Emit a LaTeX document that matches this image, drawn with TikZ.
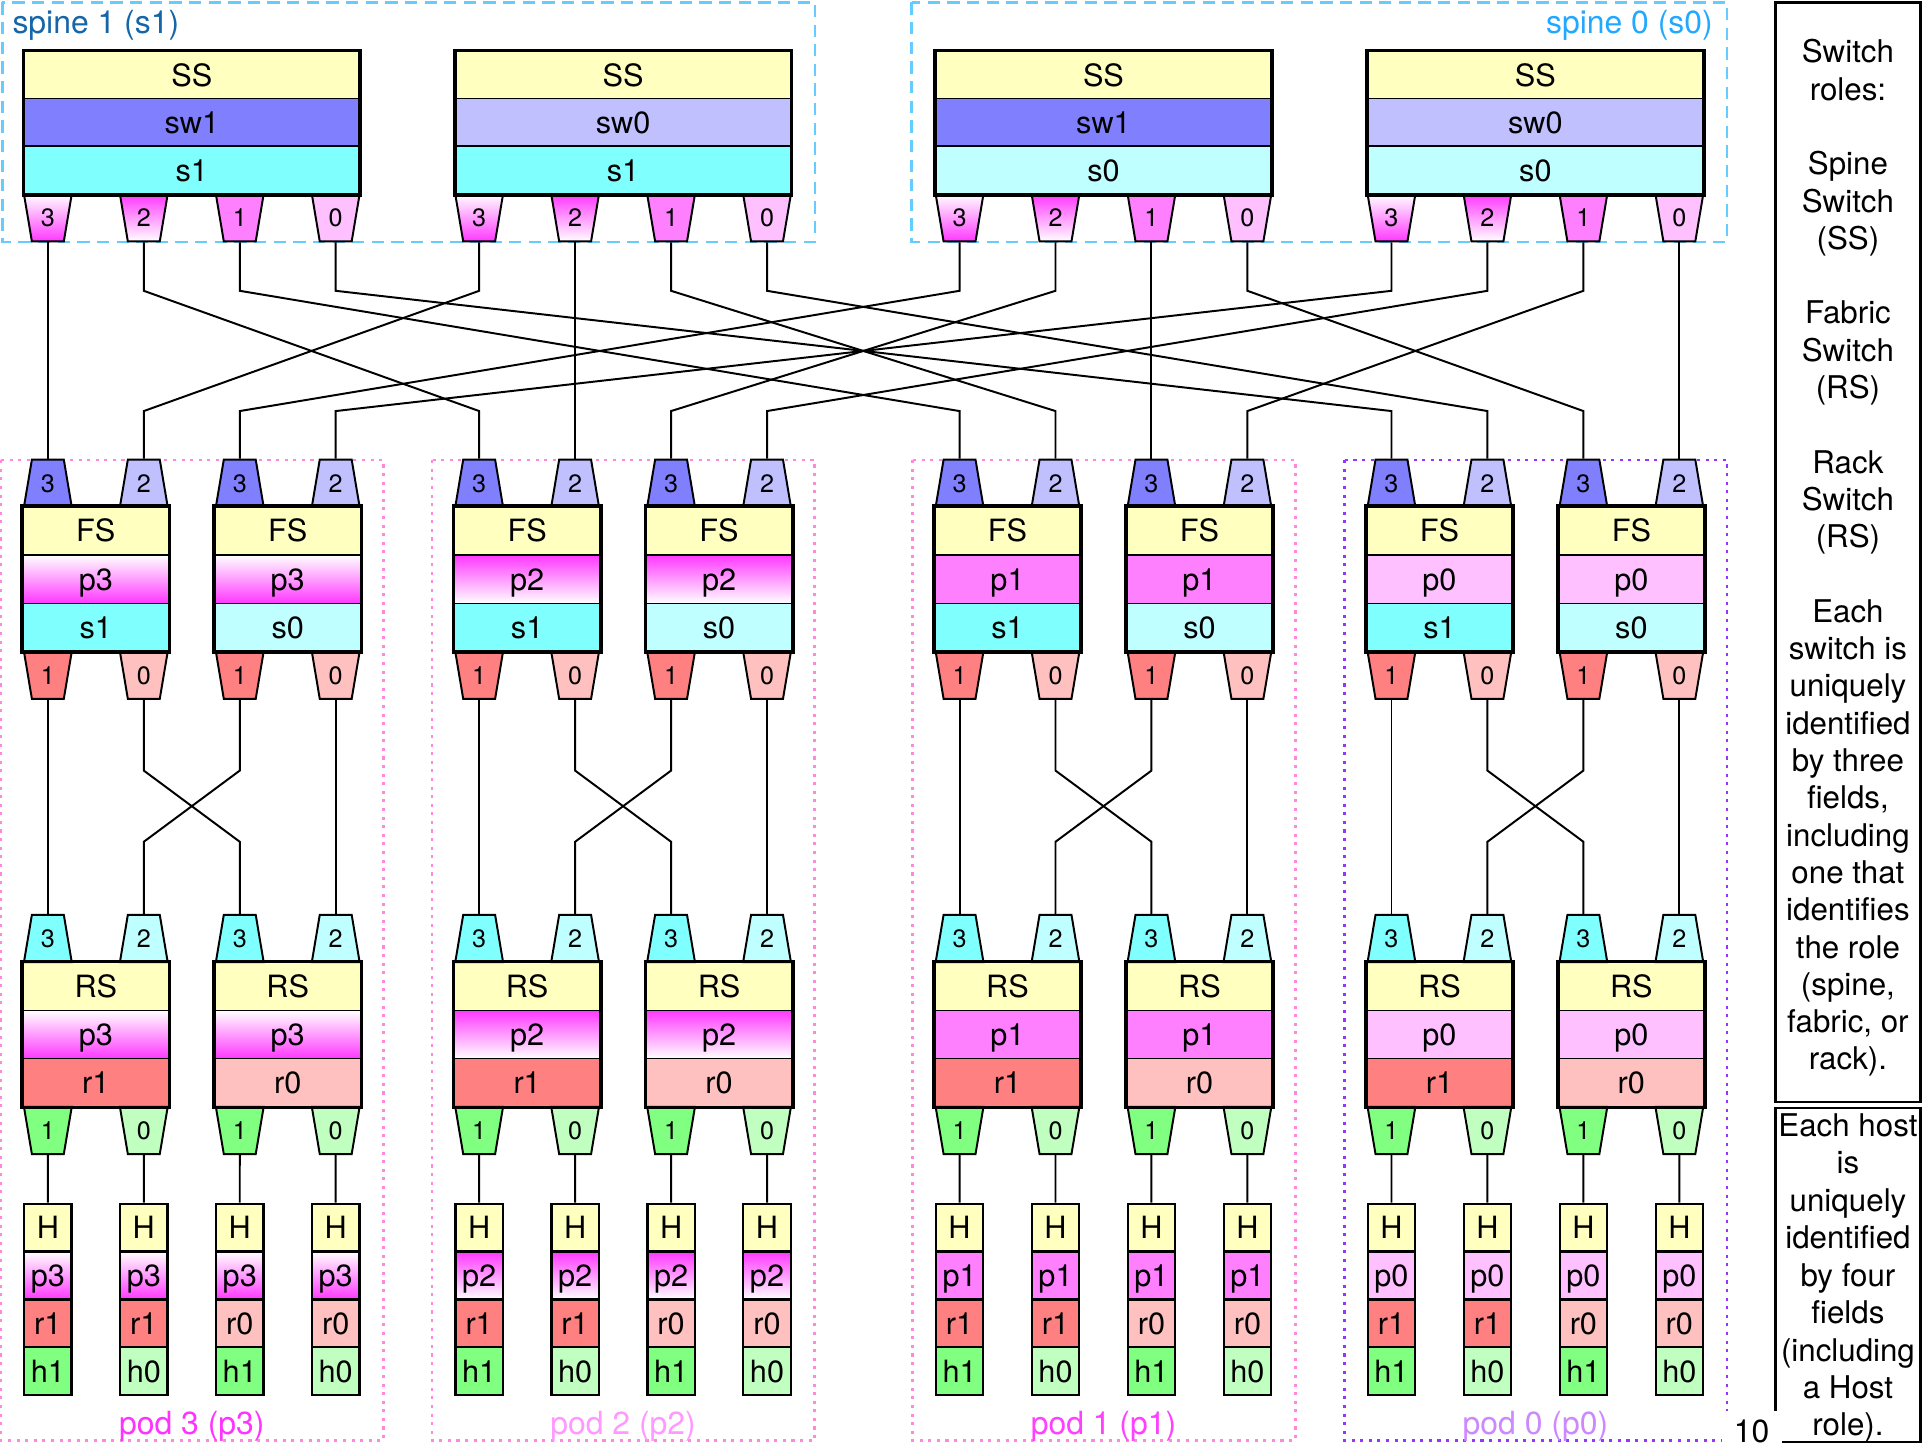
\documentclass[tikz,border=0pt]{standalone}
\usepackage{fontspec}
\setmainfont{TeX Gyre Heros}
\usetikzlibrary{shapes.geometric}
\definecolor{yel}{HTML}{FFFFC0}
\definecolor{swc1}{HTML}{8080FF}
\definecolor{swc0}{HTML}{C0C0FF}
\definecolor{sc1}{HTML}{80FFFF}
\definecolor{sc0}{HTML}{C0FFFF}
\definecolor{rc1}{HTML}{FF8080}
\definecolor{rc0}{HTML}{FFC0C0}
\definecolor{hc1}{HTML}{80FF80}
\definecolor{hc0}{HTML}{C0FFC0}
\definecolor{mag}{HTML}{FF38FF}
\definecolor{pc1}{HTML}{FF80FF}
\definecolor{pc0}{HTML}{FFC0FF}
\definecolor{spblue}{HTML}{66CCFF}
\definecolor{sp1txt}{HTML}{1565A8}
\definecolor{sp0txt}{HTML}{22A8FF}
\definecolor{podline}{HTML}{FF88DD}
\definecolor{pod0line}{HTML}{9933FF}
\definecolor{podt3}{HTML}{FF33FF}
\definecolor{podt2}{HTML}{FF99FF}
\definecolor{podt1}{HTML}{FF40FF}
\definecolor{podt0}{HTML}{CC88FF}
\tikzset{
  lab/.style={font=\fontsize{25}{30}\selectfont, text height=18pt, text depth=0pt, inner sep=0pt},
  row/.style={lab, rectangle, draw, line width=1pt, minimum height=39.3pt},
  hrow/.style={lab, rectangle, draw, line width=1.8pt, minimum height=39pt, minimum width=38.6pt},
  port/.style={trapezium, draw, line width=1.6pt, trapezium left angle=79, trapezium right angle=79,
    trapezium stretches=true, minimum width=39pt, minimum height=38.5pt, inner sep=0pt,
    font=\fontsize{20.5}{24}\selectfont, text height=14.6pt, text depth=0pt},
  portdn/.style={port, shape border rotate=180},
  wire/.style={line width=1.6pt},
  outer/.style={line width=3pt},
  pod3/.style={top color=white, bottom color=mag},
  pod2/.style={top color=mag, bottom color=white},
  pod1/.style={fill=pc1},
  pod0/.style={fill=pc0},
  spinebox/.style={draw=spblue, line width=2pt, dash pattern=on 10pt off 6pt},
  podbox/.style={draw=podline, line width=2.2pt, dash pattern=on 2.5pt off 4.5pt},
  txt/.style={font=\fontsize{26}{30}\selectfont, text height=18.5pt, text depth=0pt, inner sep=0pt},
  leg/.style={font=\fontsize{25.5}{30}\selectfont, text height=18.4pt, text depth=0pt, inner sep=0pt}
}
\begin{document}
\begin{tikzpicture}[x=1pt, y=-1pt]
\useasboundingbox (0,0) rectangle (1568,1178);
\coordinate (yA) at (0,237);
\coordinate (yB) at (0,335);
\coordinate (yC) at (0,628);
\coordinate (yD) at (0,686);

% group boxes
\draw[spinebox] (2,2) rectangle (664,197);
\draw[spinebox] (743,2) rectangle (1407.5,197);
\node[txt, text=sp1txt, anchor=west] (sp1lab) at (10,18) {spine 1 (s1)};
\node[txt, text=sp0txt, anchor=east] (sp0lab) at (1396,18) {spine 0 (s0)};
\foreach \pg/\gx in {3/39, 2/390.5, 1/782}{
  \draw[podbox] (\gx-38.5,375) rectangle (\gx+273.5,1174);
}
\draw[podbox, draw=pod0line] (1095.5,375) rectangle (1407.5,1174);
\foreach \pg/\gx in {3/39, 2/390.5, 1/782, 0/1134}{
  \node[txt, text=podt\pg] (podlab\pg) at (\gx+117.3,1160) {pod \pg\ (p\pg)};
}

% spine switches
\foreach \s/\w/\gx/\nm in {1/1/39/A, 1/0/390.5/B, 0/1/782/C, 0/0/1134/D}{
  \node[row, fill=yel, minimum width=273.5pt] (ss\nm-a) at (\gx+117.3,61.3) {SS};
  \node[row, fill=swc\w, minimum width=273.5pt] (ss\nm-b) at (\gx+117.3,100) {sw\w};
  \node[row, fill=sc\s, minimum width=273.5pt] (ss\nm-c) at (\gx+117.3,138.7) {s\s};
  \foreach \k [count=\i from 0] in {3,2,1,0}{
    \node[portdn, pod\k] (ss\nm-p\k) at (\gx+\i*78.2,177.5) {\k};
  }
  \draw[outer] (ss\nm-a.north west) rectangle (ss\nm-c.south east);
}

% pods
\foreach \pg/\gx in {3/39, 2/390.5, 1/782, 0/1134}{
  % fabric switches
  \foreach \s/\off in {1/0, 0/156.4}{
    \node[row, fill=yel, minimum width=119pt] (fs\pg\s-a) at (\gx+\off+39.1,432.7) {FS};
    \node[row, pod\pg, minimum width=119pt] (fs\pg\s-b) at (\gx+\off+39.1,472) {p\pg};
    \node[row, fill=sc\s, minimum width=119pt] (fs\pg\s-c) at (\gx+\off+39.1,511.3) {s\s};
    \node[port, fill=swc1] (fs\pg\s-u3) at (\gx+\off,393.8) {3};
    \node[port, fill=swc0] (fs\pg\s-u2) at (\gx+\off+78.2,393.8) {2};
    \node[portdn, fill=rc1] (fs\pg\s-d1) at (\gx+\off,550.3) {1};
    \node[portdn, fill=rc0] (fs\pg\s-d0) at (\gx+\off+78.2,550.3) {0};
    \draw[outer] (fs\pg\s-a.north west) rectangle (fs\pg\s-c.south east);
  }
  % rack switches
  \foreach \r/\off in {1/0, 0/156.4}{
    \node[row, fill=yel, minimum width=119pt] (rs\pg\r-a) at (\gx+\off+39.1,803.7) {RS};
    \node[row, pod\pg, minimum width=119pt] (rs\pg\r-b) at (\gx+\off+39.1,843) {p\pg};
    \node[row, fill=rc\r, minimum width=119pt] (rs\pg\r-c) at (\gx+\off+39.1,882.3) {r\r};
    \node[port, fill=sc1] (rs\pg\r-u3) at (\gx+\off,764.8) {3};
    \node[port, fill=sc0] (rs\pg\r-u2) at (\gx+\off+78.2,764.8) {2};
    \node[portdn, fill=hc1] (rs\pg\r-d1) at (\gx+\off,921.3) {1};
    \node[portdn, fill=hc0] (rs\pg\r-d0) at (\gx+\off+78.2,921.3) {0};
    \draw[outer] (rs\pg\r-a.north west) rectangle (rs\pg\r-c.south east);
    % hosts
    \foreach \h/\hoff in {1/0, 0/78.2}{
      \node[hrow, fill=yel] (h\pg\r\h-a) at (\gx+\off+\hoff,1000.5) {H};
      \node[hrow, pod\pg] (h\pg\r\h-b) at (\gx+\off+\hoff,1039.5) {p\pg};
      \node[hrow, fill=rc\r] (h\pg\r\h-c) at (\gx+\off+\hoff,1078.5) {r\r};
      \node[hrow, fill=hc\h] (h\pg\r\h-d) at (\gx+\off+\hoff,1117.5) {h\h};
      \draw[wire] (rs\pg\r-d\h.south) -- (h\pg\r\h-a.north);
    }
  }
  % fabric to rack wiring
  \foreach \s/\up in {1/3, 0/2}{
    \foreach \r in {1,0}{
      \draw[wire] (fs\pg\s-d\r.south) -- (fs\pg\s-d\r.south |- yC) -- (rs\pg\r-u\up.north |- yD) -- (rs\pg\r-u\up.north);
    }
  }
}

% spine to fabric wiring
\foreach \s/\nm/\up in {1/A/3, 1/B/2, 0/C/3, 0/D/2}{
  \foreach \k in {3,2,1,0}{
    \draw[wire] (ss\nm-p\k.south) -- (ss\nm-p\k.south |- yA) -- (fs\k\s-u\up.north |- yB) -- (fs\k\s-u\up.north);
  }
}

% legend
\draw[line width=2pt] (1447,2) rectangle (1565,898);
\draw[line width=2pt] (1447,903) rectangle (1565,1175);
\foreach \t [count=\i from 0] in {Switch, roles:, , Spine, Switch, {(SS)}, , Fabric, Switch, {(RS)}, , Rack, Switch, {(RS)}, , Each, switch is, uniquely, identified, by three, {fields,}, including, one that, identifies, the role, {(spine,}, {fabric, or}, rack).}{
  \node[leg] (lega\i) at (1506,42+\i*30.4) {\t};
}
\foreach \t [count=\i from 0] in {Each host, is, uniquely, identified, by four, fields, {(including}, a Host, role).}{
  \node[leg] (legb\i) at (1506,917+\i*30.5) {\t};
}
\node[txt, fill=white, minimum width=49pt, minimum height=32pt] (pagenum) at (1427.5,1166) {10};
\end{tikzpicture}
\end{document}
